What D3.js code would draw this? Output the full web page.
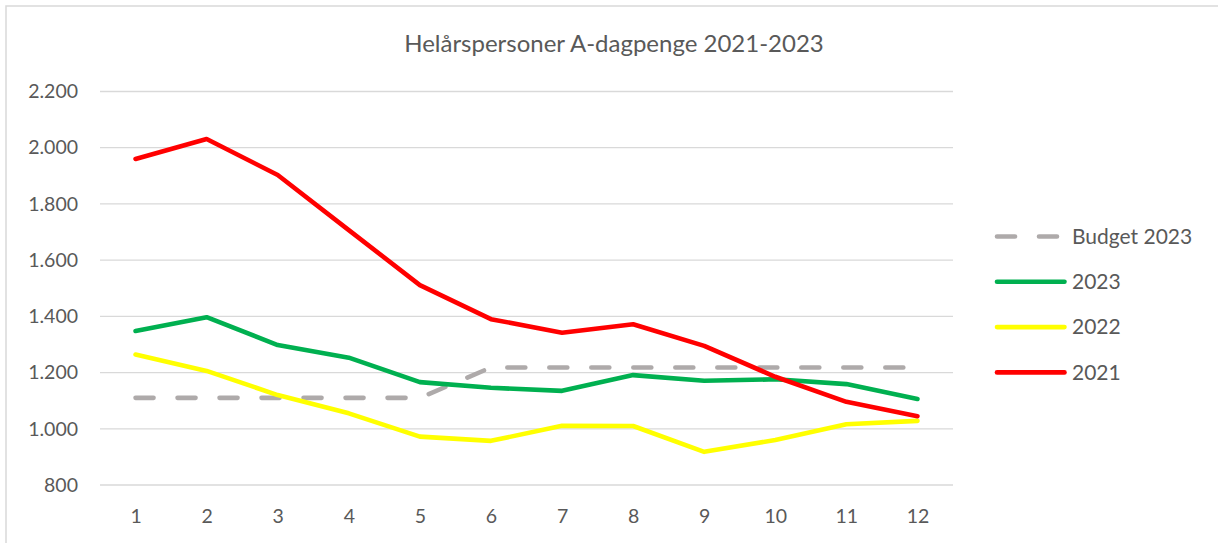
<!DOCTYPE html>
<html>
<head>
<meta charset="utf-8">
<script src="https://cdn.jsdelivr.net/npm/d3@7/dist/d3.min.js"></script>
<style>
  body { margin: 0; background: #fff; }
  text { font-family: Lato, "Open Sans", sans-serif; fill: #595959; }
</style>
</head>
<body>
<div id="chartDiv"></div>
<script>

// data
var months = [1, 2, 3, 4, 5, 6, 7, 8, 9, 10, 11, 12];
var budget2023 = [1110, 1110, 1110, 1110, 1110, 1218, 1218, 1218, 1218, 1218, 1218, 1218];
var values2023 = [1348, 1397, 1298, 1253, 1166, 1146, 1135, 1191, 1171, 1176, 1159, 1106];
var values2022 = [1264, 1206, 1120, 1055, 972, 957, 1011, 1010, 918, 960, 1016, 1028];
var values2021 = [1960, 2031, 1903, 1707, 1511, 1390, 1342, 1372, 1295, 1185, 1096, 1045];
var yTicks = [800, 1000, 1200, 1400, 1600, 1800, 2000, 2200];
var chartTitle = "Helårspersoner A-dagpenge 2021-2023";

var series = [
  {name: "Budget 2023", values: budget2023, color: "#AEAAAA", dash: "18,24"},
  {name: "2023", values: values2023, color: "#00B050", dash: null},
  {name: "2022", values: values2022, color: "#FFFF00", dash: null},
  {name: "2021", values: values2021, color: "#FF0000", dash: null}
];

var width = 1218, height = 543;
var plot = {left: 100, right: 953, top: 91.5, bottom: 485};

var svg = d3.select("#chartDiv").append("svg")
    .attr("width", width)
    .attr("height", height);

// outer chart border (only top/left visible in the crop)
svg.append("rect")
    .attr("x", 6).attr("y", 6)
    .attr("width", width + 20).attr("height", height + 20)
    .attr("fill", "none")
    .attr("stroke", "#D9D9D9")
    .attr("stroke-width", 1.5);

var dk = d3.formatLocale({decimal: ",", thousands: ".", grouping: [3], currency: ["", " kr"]});
var fmt = dk.format(",d");

var x_scale = d3.scalePoint()
    .domain(months)
    .range([plot.left, plot.right])
    .padding(0.5);

var y_scale = d3.scaleLinear()
    .domain([800, 2200])
    .range([plot.bottom, plot.top]);

// gridlines
svg.append("g").selectAll("line").data(yTicks).enter()
  .append("line")
    .attr("x1", plot.left).attr("x2", plot.right)
    .attr("y1", function(d){ return y_scale(d); })
    .attr("y2", function(d){ return y_scale(d); })
    .attr("stroke", "#D9D9D9")
    .attr("stroke-width", 1.3);

var yAxis = d3.axisLeft(y_scale).tickValues(yTicks).tickFormat(fmt).tickSize(0).tickPadding(22);
var yGroup = svg.append("g").attr("transform", "translate(" + plot.left + ",0)").call(yAxis);

var xAxis = d3.axisBottom(x_scale).tickSize(0).tickPadding(24);
var xGroup = svg.append("g").attr("transform", "translate(0," + plot.bottom + ")").call(xAxis);

svg.selectAll(".domain").remove();
svg.selectAll(".tick text")
    .attr("fill", "#595959")
    .style("font-family", "Lato")
    .style("font-size", "19.5px");

// lines
var line = d3.line()
    .x(function(d, i){ return x_scale(months[i]); })
    .y(function(d){ return y_scale(d); });

svg.append("g").selectAll("path").data(series).enter()
  .append("path")
    .attr("d", function(s){ return line(s.values); })
    .attr("fill", "none")
    .attr("stroke", function(s){ return s.color; })
    .attr("stroke-width", 4.6)
    .attr("stroke-linejoin", "round")
    .attr("stroke-linecap", "round")
    .attr("stroke-dasharray", function(s){ return s.dash; });

// title
svg.append("text")
    .attr("x", 614)
    .attr("y", 52)
    .attr("text-anchor", "middle")
    .style("font-size", "24px")
    .text(chartTitle);

// legend
var legend = svg.append("g").attr("transform", "translate(997,0)");
var items = legend.selectAll("g").data(series).enter()
  .append("g")
    .attr("transform", function(s, i){ return "translate(0," + (236.5 + i * 45.3) + ")"; });

items.append("line")
    .attr("x1", 0).attr("x2", 67.5)
    .attr("stroke", function(s){ return s.color; })
    .attr("stroke-width", 4.6)
    .attr("stroke-linecap", "round")
    .attr("stroke-dasharray", function(s){ return s.dash; });

items.append("text")
    .attr("x", 75)
    .attr("dy", "0.35em")
    .style("font-size", "21px")
    .text(function(s){ return s.name; });

</script>
</body>
</html>
